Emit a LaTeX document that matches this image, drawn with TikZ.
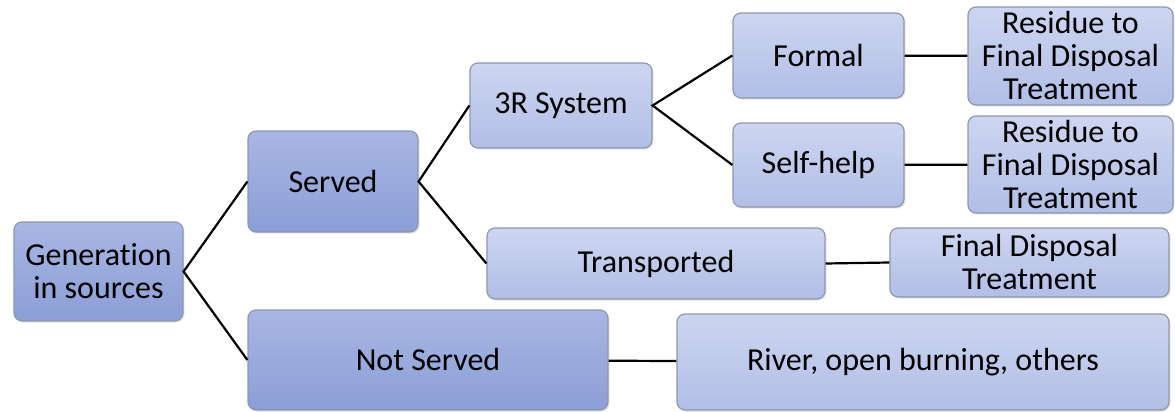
\documentclass[tikz,border=0pt]{standalone}
\usepackage{fontspec}
\setmainfont[Ligatures=NoCommon]{Carlito}
\usepackage{tikz}
\usetikzlibrary{positioning,shadows}
\definecolor{wasteDarkTop}{HTML}{A8B6E3}
\definecolor{wasteDarkBot}{HTML}{8B9ED6}
\definecolor{wasteLightTop}{HTML}{CDD5F0}
\definecolor{wasteLightBot}{HTML}{B1BEE6}
\definecolor{wasteEdge}{HTML}{8E97AC}
\tikzset{
  wastebox/.style={draw=wasteEdge,line width=0.6pt,rounded corners=4pt,align=center,
    inner sep=2pt,font=\fontsize{16}{16.5}\selectfont,text=black,
    drop shadow={opacity=0.18,shadow xshift=0.8pt,shadow yshift=-0.8pt}},
  darkbox/.style={wastebox,top color=wasteDarkTop,bottom color=wasteDarkBot},
  lightbox/.style={wastebox,top color=wasteLightTop,bottom color=wasteLightBot},
  wasteline/.style={draw=black,line width=1.1pt}
}

\begin{document}
\begin{tikzpicture}[x=0.5pt,y=-0.5pt]
    \useasboundingbox (0,0) rectangle (1175,412);
    % first level
    \node[darkbox,minimum width=84.5pt,minimum height=49.5pt] (generation) at (98.5,271.5) {Generation\\in sources};
    % second level
    \node[darkbox,minimum width=85pt,minimum height=50.5pt] (served) at (333,181.5) {Served};
    \node[darkbox,minimum width=180pt,minimum height=50pt] (notserved) at (428,360) {Not Served};
    % third level
    \node[lightbox,minimum width=91pt,minimum height=42.5pt] (system) at (561,105.5) {3R System};
    \node[lightbox,minimum width=169pt,minimum height=35.5pt] (transported) at (656,263.5) {Transported};
    \node[lightbox,minimum width=246pt,minimum height=48pt] (river) at (923,362) {River, open burning, others};
    % fourth level
    \node[lightbox,minimum width=85.5pt,minimum height=42.5pt] (formal) at (818.5,55.5) {Formal};
    \node[lightbox,minimum width=85.5pt,minimum height=42pt] (selfhelp) at (818.5,165) {Self-help};
    \node[lightbox,minimum width=139.5pt,minimum height=34.5pt] (finaltrans) at (1029.5,262.5) {Final Disposal\\Treatment};
    % residues
    \node[lightbox,minimum width=102.5pt,minimum height=49pt] (residueformal) at (1070.5,56) {Residue to\\Final Disposal\\Treatment};
    \node[lightbox,minimum width=102.5pt,minimum height=48.5pt] (residueself) at (1070.5,164.5) {Residue to\\Final Disposal\\Treatment};
    % connectors
    \draw[wasteline] (served.west) -- (generation.east) -- (notserved.west);
    \draw[wasteline] (system.west) -- (served.east) -- (transported.west);
    \draw[wasteline] (formal.west) -- (system.east) -- (selfhelp.west);
    \draw[wasteline] (formal) -- (residueformal);
    \draw[wasteline] (selfhelp) -- (residueself);
    \draw[wasteline] (transported.east) -- (finaltrans.west);
    \draw[wasteline] (notserved) -- (river);
  \end{tikzpicture}
\end{document}
